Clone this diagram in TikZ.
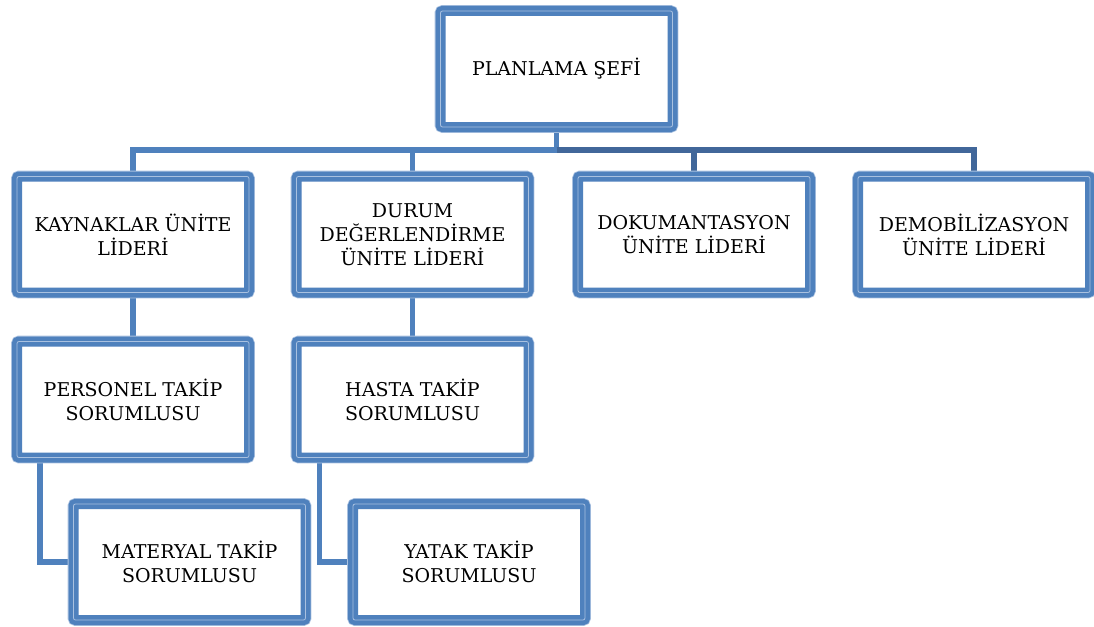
\documentclass[tikz,border=0pt]{standalone}
\usepackage{fontspec}
\setmainfont{DejaVu Serif}
\usetikzlibrary{calc,positioning,backgrounds}

\definecolor{boxblue}{HTML}{4F81BD}
\definecolor{boxlight}{HTML}{A9C1E0}
\definecolor{linedark}{HTML}{41679A}

\tikzset{
  unitbox/.style={draw=boxblue,line width=10pt,rounded corners=2pt,fill=white,
    minimum width=232pt,minimum height=116pt,align=center,inner sep=0pt,
    font=\fontsize{19}{24}\selectfont,
    preaction={draw=boxlight,line width=11.6pt},
    postaction={draw=boxlight,line width=0.8pt}},
  linklight/.style={draw=boxblue,line width=5.5pt},
  linkdark/.style={draw=linedark,line width=5.5pt}
}

\begin{document}
\begin{tikzpicture}[x=1pt,y=-1pt]
\useasboundingbox (0,0) rectangle (1094,626);

\node[unitbox] (plan) at (556.5,69) {PLANLAMA ŞEFİ};

\node[unitbox] (kay) at (133,234.5) {KAYNAKLAR ÜNİTE\\LİDERİ};
\node[unitbox] (dur) at (412.5,234.5) {DURUM\\DEĞERLENDİRME\\ÜNİTE LİDERİ};
\node[unitbox] (dok) at (694,234.5) {DOKUMANTASYON\\ÜNİTE LİDERİ};
\node[unitbox] (dem) at (974,234.5) {DEMOBİLİZASYON\\ÜNİTE LİDERİ};

\node[unitbox] (per) at (133,399.5) {PERSONEL TAKİP\\SORUMLUSU};
\node[unitbox] (has) at (412.5,399.5) {HASTA TAKİP\\SORUMLUSU};

\node[unitbox] (mat) at (189.5,562) {MATERYAL TAKİP\\SORUMLUSU};
\node[unitbox] (yat) at (469,562) {YATAK TAKİP\\SORUMLUSU};

\coordinate (bus) at ($(plan.south)+(0,18)$);

\begin{scope}[on background layer]
\draw[linklight] (plan.south) -- (bus);
\draw[linklight] (bus) -| (kay.north);
\draw[linklight] (bus) -| (dur.north);
\draw[linkdark] (bus) -| (dok.north);
\draw[linkdark] (bus) -| (dem.north);

\draw[linklight] (kay.south) -- (per.north);
\draw[linklight] (dur.south) -- (has.north);

\draw[linklight] ([xshift=28pt]per.south west) |- (mat.west);
\draw[linklight] ([xshift=28pt]has.south west) |- (yat.west);
\end{scope}
\end{tikzpicture}
\end{document}
